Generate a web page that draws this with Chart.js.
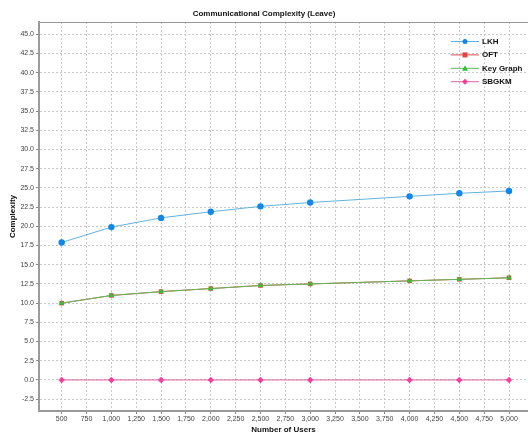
<!DOCTYPE html>
<html>
<head>
<meta charset="utf-8">
<title>Communicational Complexity (Leave)</title>
<script src="https://cdn.jsdelivr.net/npm/chart.js@4.4.1/dist/chart.umd.min.js"></script>
<style>
  body { margin: 0; background: #ffffff; }
  canvas { display: block; }
</style>
</head>
<body>
<canvas id="complexityChart" width="528" height="437"></canvas>
<script>
// Data
var users = [500, 1000, 1500, 2000, 2500, 3000, 4000, 4500, 5000];
var lkh = [17.9, 19.9, 21.1, 21.9, 22.6, 23.1, 23.9, 24.3, 24.6];
var oft = [10.0, 11.0, 11.5, 11.9, 12.3, 12.5, 12.9, 13.1, 13.3];
var keyGraph = [10.0, 11.0, 11.5, 11.9, 12.3, 12.5, 12.9, 13.1, 13.3];
var sbgkm = [0, 0, 0, 0, 0, 0, 0, 0, 0];

var seriesNames = ["LKH", "OFT", "Key Graph", "SBGKM"];

// Tick labels on both axes
var xTicks = [500, 750, 1000, 1250, 1500, 1750, 2000, 2250, 2500, 2750, 3000,
  3250, 3500, 3750, 4000, 4250, 4500, 4750, 5000];
var yTicks = [-2.5, 0, 2.5, 5, 7.5, 10, 12.5, 15, 17.5, 20, 22.5, 25, 27.5,
  30, 32.5, 35, 37.5, 40, 42.5, 45];

var plainFont = "'Liberation Sans', Arial, sans-serif";

function toPoints(values) {
  return values.map(function (v, i) {
    return { x: users[i], y: v };
  });
}

// Draw a marker shape at (x, y)
function drawMarker(ctx, style, x, y, r, color) {
  ctx.save();
  ctx.fillStyle = color;
  ctx.beginPath();
  if (style === "circle") {
    ctx.arc(x, y, r, 0, Math.PI * 2);
  } else if (style === "rect") {
    ctx.rect(x - r, y - r, r * 2, r * 2);
  } else if (style === "triangle") {
    ctx.moveTo(x, y - r - 0.5);
    ctx.lineTo(x + r + 0.5, y + r);
    ctx.lineTo(x - r - 0.5, y + r);
    ctx.closePath();
  } else if (style === "rectRot") {
    ctx.moveTo(x, y - r - 0.5);
    ctx.lineTo(x + r + 0.5, y);
    ctx.lineTo(x, y + r + 0.5);
    ctx.lineTo(x - r - 0.5, y);
    ctx.closePath();
  }
  ctx.fill();
  ctx.restore();
}

// Legend drawn inside the plot, top right
var insideLegend = {
  id: "insideLegend",
  afterDraw: function (chart) {
    var ctx = chart.ctx;
    var area = chart.chartArea;
    var x0 = area.right - 77;
    var y0 = area.top + 19;
    ctx.save();
    ctx.font = "bold 8px " + plainFont;
    ctx.textBaseline = "middle";
    seriesNames.forEach(function (name, i) {
      var ds = chart.data.datasets[i];
      var y = y0 + i * 13.4;
      ctx.strokeStyle = ds.borderColor;
      ctx.lineWidth = 1;
      ctx.beginPath();
      ctx.moveTo(x0, y + 0.5);
      ctx.lineTo(x0 + 28, y + 0.5);
      ctx.stroke();
      drawMarker(ctx, ds.pointStyle, x0 + 14, y + 0.5, 2.5, ds.pointBackgroundColor);
      ctx.fillStyle = "#111111";
      ctx.fillText(name, x0 + 31, y + 0.5);
    });
    ctx.restore();
  }
};

// Thin border along the top of the plot
var topBorder = {
  id: "topBorder",
  beforeDatasetsDraw: function (chart) {
    var ctx = chart.ctx;
    var area = chart.chartArea;
    ctx.save();
    ctx.strokeStyle = "#9a9a9a";
    ctx.lineWidth = 1;
    ctx.beginPath();
    ctx.moveTo(area.left, area.top + 0.5);
    ctx.lineTo(area.right, area.top + 0.5);
    ctx.stroke();
    ctx.restore();
  }
};

var ctx = document.getElementById("complexityChart").getContext("2d");
var complexityChart = new Chart(ctx, {
  type: "line",
  data: {
    datasets: [
      {
        label: seriesNames[0],
        data: toPoints(lkh),
        borderColor: "#62b2de",
        pointBackgroundColor: "#1188e8",
        pointBorderWidth: 0,
        pointStyle: "circle",
        pointRadius: 3.2,
        order: 4
      },
      {
        label: seriesNames[1],
        data: toPoints(oft),
        borderColor: "#d9534f",
        pointBackgroundColor: "#e8403a",
        pointBorderWidth: 0,
        pointStyle: "rect",
        pointRadius: 3.2,
        order: 3
      },
      {
        label: seriesNames[2],
        data: toPoints(keyGraph),
        borderColor: "#62b85a",
        pointBackgroundColor: "#2ec237",
        pointBorderWidth: 0,
        pointStyle: "triangle",
        pointRadius: 3.2,
        order: 2
      },
      {
        label: seriesNames[3],
        data: toPoints(sbgkm),
        borderColor: "#dd5fa4",
        pointBackgroundColor: "#f43d9d",
        pointBorderWidth: 0,
        pointStyle: "rectRot",
        pointRadius: 3.2,
        order: 1
      }
    ]
  },
  options: {
    responsive: false,
    animation: false,
    layout: { padding: 0, autoPadding: false },
    elements: {
      line: { borderWidth: 1, tension: 0, fill: false }
    },
    plugins: {
      legend: { display: false },
      tooltip: { enabled: false },
      title: {
        display: true,
        text: "Communicational Complexity (Leave)",
        color: "#111111",
        font: { family: plainFont, size: 8, weight: "bold", lineHeight: 1.2 },
        padding: { top: 9, bottom: 3.4 }
      }
    },
    scales: {
      x: {
        type: "linear",
        min: 272,
        max: 5191,
        afterBuildTicks: function (scale) {
          scale.ticks = xTicks.map(function (v) { return { value: v }; });
        },
        afterFit: function (scale) {
          scale.height = 26;
          scale.paddingLeft = 0;
          scale.paddingRight = 0;
        },
        ticks: {
          color: "#444444",
          font: { family: plainFont, size: 7 },
          padding: 1,
          maxRotation: 0,
          autoSkip: false,
          callback: function (value) {
            return value.toLocaleString("en-US");
          }
        },
        grid: {
          color: "#c8c8c8",
          tickLength: 3,
          tickColor: "#888888",
          tickBorderDash: []
        },
        border: { color: "#9a9a9a", width: 2, dash: [2, 2] },
        title: {
          display: true,
          text: "Number of Users",
          color: "#111111",
          font: { family: plainFont, size: 8, weight: "bold" },
          padding: { top: 0, bottom: 2 }
        }
      },
      y: {
        type: "linear",
        min: -4.04,
        max: 46.6,
        afterBuildTicks: function (scale) {
          scale.ticks = yTicks.map(function (v) { return { value: v }; });
        },
        afterFit: function (scale) {
          scale.width = 39;
        },
        ticks: {
          color: "#444444",
          font: { family: plainFont, size: 7 },
          padding: 2,
          autoSkip: false,
          callback: function (value) {
            return value.toFixed(1);
          }
        },
        grid: {
          color: "#c8c8c8",
          tickLength: 3,
          tickColor: "#888888",
          tickBorderDash: []
        },
        border: { color: "#9a9a9a", width: 2, dash: [2, 2] },
        title: {
          display: true,
          text: "Complexity",
          color: "#111111",
          font: { family: plainFont, size: 8, weight: "bold" },
          padding: { top: 8, bottom: 0 }
        }
      }
    }
  },
  plugins: [topBorder, insideLegend]
});
</script>
</body>
</html>
